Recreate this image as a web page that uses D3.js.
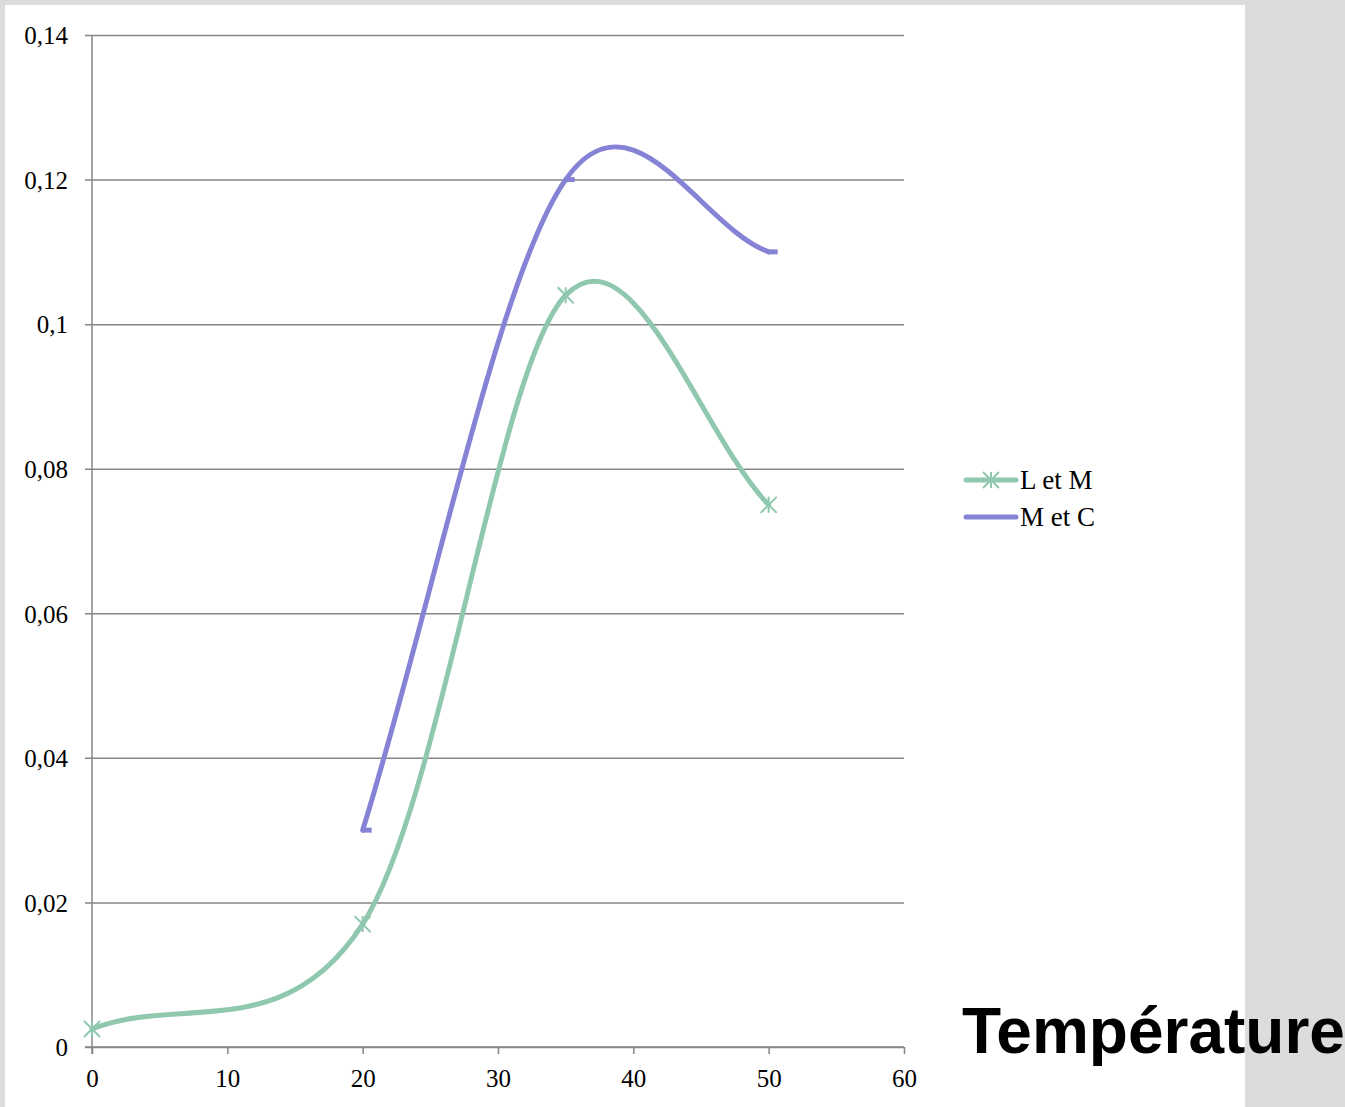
<!DOCTYPE html>
<html>
<head>
<meta charset="utf-8">
<script src="https://cdn.jsdelivr.net/npm/d3@7"></script>
<style>
  html, body { margin: 0; padding: 0; background: #dcdcdc; }
  svg { display: block; }
  .axis text { font-family: "Liberation Serif", "Times New Roman", serif; font-size: 25px; fill: #000; }
  .axis path { display: none; }
  .legend text { font-family: "Liberation Serif", "Times New Roman", serif; font-size: 27px; fill: #000; }
</style>
</head>
<body>
<svg id="chart" width="1345" height="1107"></svg>
<script>
// data
var temps_lm = [0, 20, 35, 50];
var values_lm = [0.0025, 0.017, 0.104, 0.075];
var temps_mc = [20, 35, 50];
var values_mc = [0.03, 0.12, 0.11];
var seriesNames = ["L et M", "M et C"];
var seriesColors = ["#8fc8ae", "#8683d6"];
var xTicks = [0, 10, 20, 30, 40, 50, 60];
var yTicks = [0, 0.02, 0.04, 0.06, 0.08, 0.1, 0.12, 0.14];
var yTickLabels = ["0", "0,02", "0,04", "0,06", "0,08", "0,1", "0,12", "0,14"];

var svg = d3.select("#chart");

// white sheet
svg.append("rect")
    .attr("x", 5).attr("y", 5)
    .attr("width", 1240).attr("height", 1102)
    .attr("fill", "#fff");

var margin = {top: 35, left: 92},
    width = 812,
    height = 1012;

var x = d3.scaleLinear().domain([0, 60]).range([0, width]);
var y = d3.scaleLinear().domain([0, 0.14]).range([height, 0]);

var g = svg.append("g")
    .attr("transform", "translate(" + margin.left + "," + margin.top + ")");

// gridlines + y labels
var yAxis = g.append("g")
    .attr("class", "axis y")
    .call(d3.axisLeft(y).tickValues(yTicks).tickSize(-width).tickPadding(24)
      .tickFormat(function(d, i) { return yTickLabels[i]; }));
yAxis.selectAll("line")
    .attr("x1", -7)
    .attr("stroke", "#868686")
    .attr("stroke-width", 1.5);
yAxis.selectAll("text").attr("dy", "0.35em");

// x axis
var xAxis = g.append("g")
    .attr("class", "axis x")
    .attr("transform", "translate(0," + height + ")")
    .call(d3.axisBottom(x).tickValues(xTicks).tickSize(7).tickPadding(15));
xAxis.selectAll("line").attr("stroke", "#868686").attr("stroke-width", 1.5);

g.append("line")
    .attr("x1", 0).attr("x2", 0)
    .attr("y1", 0).attr("y2", height + 7)
    .attr("stroke", "#868686").attr("stroke-width", 1.5);
g.append("line")
    .attr("x1", -7).attr("x2", width)
    .attr("y1", height).attr("y2", height)
    .attr("stroke", "#868686").attr("stroke-width", 1.5);

// excel-like smoothed line: inner tangents (next-prev)/6, end tangents (next-cur)/3
function smooth(pts) {
  var p = pts.map(function(d) { return [x(d[0]), y(d[1])]; });
  var path = d3.path();
  path.moveTo(p[0][0], p[0][1]);
  for (var i = 0; i < p.length - 1; i++) {
    var a = p[i], b = p[i + 1], c1, c2;
    if (i === 0) c1 = [a[0] + (b[0] - a[0]) / 3, a[1] + (b[1] - a[1]) / 3];
    else c1 = [a[0] + (b[0] - p[i - 1][0]) / 6, a[1] + (b[1] - p[i - 1][1]) / 6];
    if (i === p.length - 2) c2 = [b[0] - (b[0] - a[0]) / 3, b[1] - (b[1] - a[1]) / 3];
    else c2 = [b[0] - (p[i + 2][0] - a[0]) / 6, b[1] - (p[i + 2][1] - a[1]) / 6];
    path.bezierCurveTo(c1[0], c1[1], c2[0], c2[1], b[0], b[1]);
  }
  return path.toString();
}

var lm = d3.zip(temps_lm, values_lm);
var mc = d3.zip(temps_mc, values_mc);

g.append("path")
    .datum(lm)
    .attr("d", smooth)
    .attr("fill", "none")
    .attr("stroke", seriesColors[0])
    .attr("stroke-width", 5)
    .attr("stroke-linecap", "round");

g.append("path")
    .datum(mc)
    .attr("d", smooth)
    .attr("fill", "none")
    .attr("stroke", seriesColors[1])
    .attr("stroke-width", 5)
    .attr("stroke-linecap", "round");

// star markers
function star(sel, s) {
  sel.append("path")
    .attr("d", "M" + (-s) + "," + (-s) + "L" + s + "," + s +
               "M" + (-s) + "," + s + "L" + s + "," + (-s) +
               "M0," + (-s) + "L0," + s)
    .attr("stroke", seriesColors[0])
    .attr("stroke-width", 2)
    .attr("fill", "none");
}
g.selectAll(".lm-mark")
    .data(lm)
  .enter().append("g")
    .attr("class", "lm-mark")
    .attr("transform", function(d) { return "translate(" + x(d[0]) + "," + y(d[1]) + ")"; })
    .each(function() { star(d3.select(this), 8); });

// dash markers
g.selectAll(".mc-mark")
    .data(mc)
  .enter().append("line")
    .attr("class", "mc-mark")
    .attr("x1", function(d) { return x(d[0]) - 1; })
    .attr("x2", function(d) { return x(d[0]) + 9; })
    .attr("y1", function(d) { return y(d[1]); })
    .attr("y2", function(d) { return y(d[1]); })
    .attr("stroke", seriesColors[1])
    .attr("stroke-width", 5);

// legend
var legend = svg.append("g").attr("class", "legend");
seriesNames.forEach(function(name, i) {
  var ly = 480 + i * 37;
  legend.append("line")
      .attr("x1", 966).attr("x2", 1016)
      .attr("y1", ly).attr("y2", ly)
      .attr("stroke", seriesColors[i])
      .attr("stroke-width", 5)
      .attr("stroke-linecap", "round");
  if (i === 0) {
    var m = legend.append("g").attr("transform", "translate(991," + ly + ")");
    star(m, 8);
  }
  legend.append("text")
      .attr("x", 1020).attr("y", ly)
      .attr("dy", "0.35em")
      .text(name);
});

// axis title
svg.append("text")
    .attr("x", 962).attr("y", 1053)
    .attr("font-family", "'Liberation Sans', Arial, sans-serif")
    .attr("font-weight", "bold")
    .attr("font-size", 64)
    .attr("fill", "#000")
    .text("Température");
</script>
</body>
</html>
